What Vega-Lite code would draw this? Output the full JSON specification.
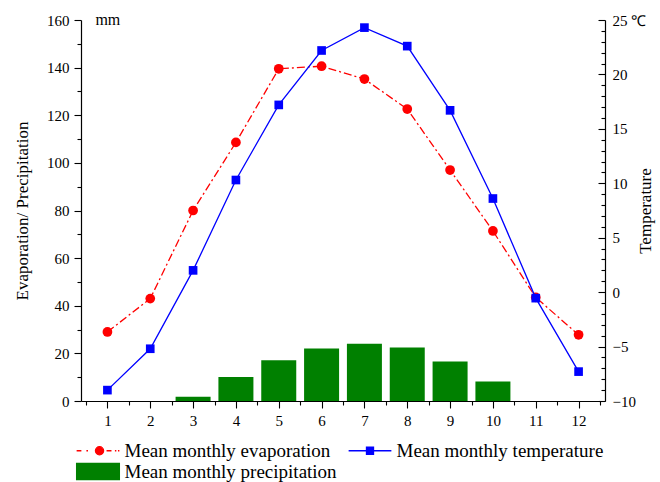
{
  "$schema": "https://vega.github.io/schema/vega-lite/v6.json",
  "width": 524,
  "height": 381,
  "autosize": {"type": "none"},
  "padding": {"left": 81, "top": 20, "right": 55, "bottom": 81},
  "background": "white",
  "config": {
    "font": "Liberation Serif",
    "view": {"stroke": null},
    "axis": {
      "grid": false,
      "domainColor": "black",
      "domainWidth": 1.2,
      "tickColor": "black",
      "tickWidth": 1.1,
      "labelColor": "black",
      "labelFont": "Liberation Serif",
      "labelFontSize": 15,
      "titleFont": "Liberation Serif",
      "titleFontSize": 17,
      "titleFontWeight": "normal",
      "titleColor": "black",
      "labelOverlap": false
    },
    "legend": {
      "labelFont": "Liberation Serif",
      "labelFontSize": 19,
      "labelColor": "black",
      "labelLimit": 0
    }
  },
  "datasets": {
    "climate": [
      {"month": 1, "series": "Mean monthly evaporation", "value": 29},
      {"month": 2, "series": "Mean monthly evaporation", "value": 43},
      {"month": 3, "series": "Mean monthly evaporation", "value": 80},
      {"month": 4, "series": "Mean monthly evaporation", "value": 108.6},
      {"month": 5, "series": "Mean monthly evaporation", "value": 139.5},
      {"month": 6, "series": "Mean monthly evaporation", "value": 140.6},
      {"month": 7, "series": "Mean monthly evaporation", "value": 135.2},
      {"month": 8, "series": "Mean monthly evaporation", "value": 122.6},
      {"month": 9, "series": "Mean monthly evaporation", "value": 97},
      {"month": 10, "series": "Mean monthly evaporation", "value": 71.4},
      {"month": 11, "series": "Mean monthly evaporation", "value": 43.5},
      {"month": 12, "series": "Mean monthly evaporation", "value": 27.8},
      {"month": 1, "series": "Mean monthly temperature", "value": -9.0},
      {"month": 2, "series": "Mean monthly temperature", "value": -5.2},
      {"month": 3, "series": "Mean monthly temperature", "value": 2.0},
      {"month": 4, "series": "Mean monthly temperature", "value": 10.3},
      {"month": 5, "series": "Mean monthly temperature", "value": 17.2},
      {"month": 6, "series": "Mean monthly temperature", "value": 22.2},
      {"month": 7, "series": "Mean monthly temperature", "value": 24.3},
      {"month": 8, "series": "Mean monthly temperature", "value": 22.6},
      {"month": 9, "series": "Mean monthly temperature", "value": 16.7},
      {"month": 10, "series": "Mean monthly temperature", "value": 8.6},
      {"month": 11, "series": "Mean monthly temperature", "value": -0.55},
      {"month": 12, "series": "Mean monthly temperature", "value": -7.3},
      {"month": 1, "series": "Mean monthly precipitation", "value": 0},
      {"month": 2, "series": "Mean monthly precipitation", "value": 0},
      {"month": 3, "series": "Mean monthly precipitation", "value": 1.8},
      {"month": 4, "series": "Mean monthly precipitation", "value": 10.1},
      {"month": 5, "series": "Mean monthly precipitation", "value": 17.1},
      {"month": 6, "series": "Mean monthly precipitation", "value": 22},
      {"month": 7, "series": "Mean monthly precipitation", "value": 24},
      {"month": 8, "series": "Mean monthly precipitation", "value": 22.5},
      {"month": 9, "series": "Mean monthly precipitation", "value": 16.6},
      {"month": 10, "series": "Mean monthly precipitation", "value": 8.2},
      {"month": 11, "series": "Mean monthly precipitation", "value": 0},
      {"month": 12, "series": "Mean monthly precipitation", "value": 0}
    ]
  },
  "data": {"name": "climate"},
  "encoding": {
    "x": {
      "field": "month",
      "type": "quantitative",
      "scale": {"domain": [0.5, 12.5], "nice": false, "zero": false},
      "axis": {
        "title": null,
        "values": [0.5, 1, 1.5, 2, 2.5, 3, 3.5, 4, 4.5, 5, 5.5, 6, 6.5, 7, 7.5, 8, 8.5, 9, 9.5, 10, 10.5, 11, 11.5, 12, 12.5],
        "labelExpr": "datum.value % 1 === 0 ? '' + datum.value : ''",
        "tickSize": {"condition": {"test": "datum.value % 1 === 0", "value": 7}, "value": 4},
        "labelPadding": 5
      }
    },
    "color": {
      "field": "series",
      "type": "nominal",
      "scale": {
        "domain": ["Mean monthly evaporation", "Mean monthly temperature", "Mean monthly precipitation"],
        "range": ["#FF0000", "#0000FF", "#008000"]
      },
      "legend": {
        "title": null,
        "orient": "none",
        "direction": "horizontal",
        "legendX": -5,
        "legendY": 420,
        "columns": 2,
        "columnPadding": 9,
        "rowPadding": -3,
        "padding": 0,
        "labelLimit": 0,
        "symbolSize": 361,
        "symbolOffset": 11.5,
        "labelOffset": 16,
        "symbolStrokeWidth": 1.3,
        "encode": {
          "symbols": {
            "update": {
              "shape": {"signal": "datum.value === 'Mean monthly evaporation' ? 'M-2.25,0H-1.75M-1.22,0H-1.05M-0.27,0A0.43,0.43 0 1,1 0.59,0A0.43,0.43 0 1,1 -0.27,0ZM0.9,0H1.42M1.78,0H1.93M2.1,0H2.25' : datum.value === 'Mean monthly temperature' ? 'M-2.25,0H2.25M-0.37,-0.37H0.37V0.37H-0.37Z' : 'M-2.25,-0.85H2.25V0.85H-2.25Z'"},
              "fill": {"signal": "datum.value === 'Mean monthly evaporation' ? '#FF0000' : datum.value === 'Mean monthly temperature' ? '#0000FF' : '#008000'"},
              "stroke": {"signal": "datum.value === 'Mean monthly evaporation' ? '#FF0000' : datum.value === 'Mean monthly temperature' ? '#0000FF' : '#008000'"},
              "strokeWidth": {"value": 1.3},
              "opacity": {"value": 1},
              "fillOpacity": {"value": 1},
              "strokeDash": {"value": []}
            }
          }
        }
      }
    }
  },
  "layer": [
    {
      "encoding": {
        "y": {
          "field": "value",
          "type": "quantitative",
          "scale": {"domain": [0, 160], "nice": false},
          "axis": {
            "title": "Evaporation/ Precipitation",
            "values": [0, 10, 20, 30, 40, 50, 60, 70, 80, 90, 100, 110, 120, 130, 140, 150, 160],
            "labelExpr": "datum.value % 20 === 0 ? datum.label : ''",
            "tickSize": {"condition": {"test": "datum.value % 20 === 0", "value": 7}, "value": 4},
            "labelPadding": 5,
            "titlePadding": 15
          }
        }
      },
      "layer": [
        {
          "transform": [{"filter": "datum.series === 'Mean monthly precipitation'"}],
          "mark": {"type": "bar", "width": 35, "opacity": 1}
        },
        {
          "transform": [{"filter": "datum.series === 'Mean monthly evaporation'"}],
          "mark": {
            "type": "line",
            "strokeWidth": 1.3,
            "strokeDash": [8, 3, 2, 3],
            "point": {"filled": true, "size": 95, "shape": "circle", "opacity": 1}
          }
        },
        {
          "transform": [{"filter": "datum.series === 'Mean monthly evaporation' && datum.month === 1"}],
          "mark": {"type": "text", "align": "left", "baseline": "middle", "dx": -12, "fontSize": 16, "font": "Liberation Serif"},
          "encoding": {
            "y": {"datum": 160, "type": "quantitative"},
            "text": {"value": "mm"},
            "color": {"value": "black"}
          }
        }
      ]
    },
    {
      "transform": [{"filter": "datum.series === 'Mean monthly temperature'"}],
      "mark": {
        "type": "line",
        "strokeWidth": 1.3,
        "point": {"filled": true, "size": 75, "shape": "square", "opacity": 1}
      },
      "encoding": {
        "y": {
          "field": "value",
          "type": "quantitative",
          "scale": {"domain": [-10, 25], "nice": false, "zero": false},
          "axis": {
            "orient": "right",
            "title": "Temperature",
            "titleAngle": 270,
            "titleBaseline": "top",
            "values": [-10, -9, -8, -7, -6, -5, -4, -3, -2, -1, 0, 1, 2, 3, 4, 5, 6, 7, 8, 9, 10, 11, 12, 13, 14, 15, 16, 17, 18, 19, 20, 21, 22, 23, 24, 25],
            "labelExpr": "datum.value === 25 ? '25 ℃' : (datum.value % 5 === 0 ? datum.label : '')",
            "tickSize": {"condition": {"test": "datum.value % 5 === 0", "value": -7}, "value": -4},
            "labelPadding": 14,
            "titlePadding": -8
          }
        }
      }
    }
  ],
  "resolve": {"scale": {"y": "independent"}}
}
